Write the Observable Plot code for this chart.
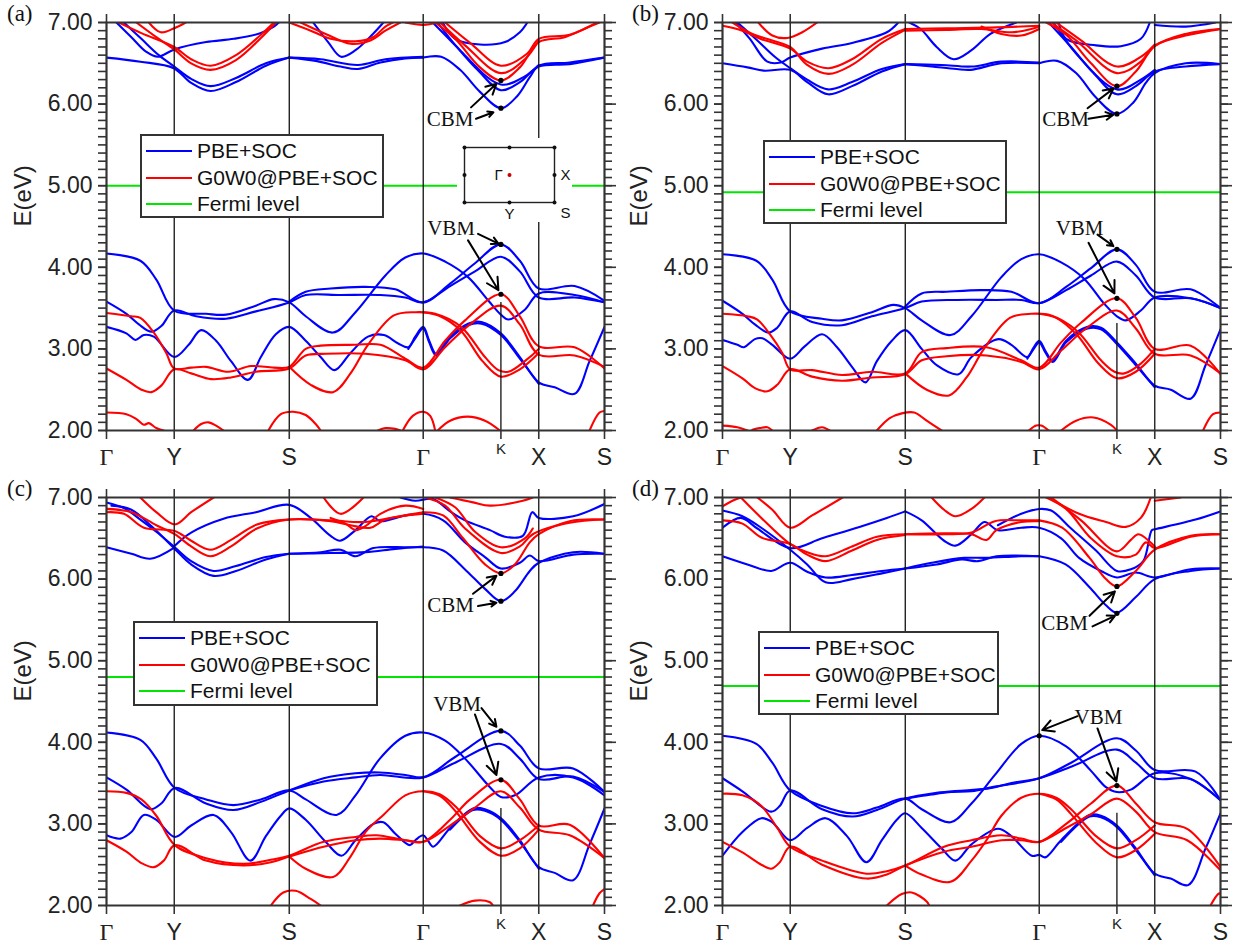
<!DOCTYPE html>
<html><head><meta charset="utf-8">
<script src="https://cdn.jsdelivr.net/npm/d3@7"></script>
<script src="https://cdn.jsdelivr.net/npm/@observablehq/plot@0.6"></script>
<style>
body{margin:0;background:#fff;}
#root{position:relative;width:1238px;height:951px;overflow:hidden;background:#fff;font-family:"Liberation Sans",Arial,sans-serif;}
.panel{position:absolute;}
.plabel{position:absolute;font-family:"Liberation Serif","Times New Roman",serif;font-size:23px;color:#111;line-height:1;}
.legend{position:absolute;background:#fff;border:2px solid #333;box-sizing:border-box;}
.legend .row{position:absolute;left:4px;height:26px;display:flex;align-items:center;font-size:21px;color:#111;white-space:nowrap;}
.legend .sw{width:46px;height:2px;margin-right:5px;}
</style></head><body><div id="root"></div>
<script>
// ---------- shared axis data ----------
const kTicks = [0, 0.136, 0.367, 0.636, 0.792, 0.868, 1];
const kNames = ["Γ", "Y", "S", "Γ", "K", "X", "S"];
const majorTicks = [2, 3, 4, 5, 6, 7];
const panelNames = ["(a)", "(b)", "(c)", "(d)"];
const fermiLevels = [5.00, 4.92, 4.80, 4.69];
const kLineStart = [3.57, 3.31, 3.19, 3.13];
const legendItems = [
  {label: "PBE+SOC", color: "#0000ff"},
  {label: "G0W0@PBE+SOC", color: "#ff0000"},
  {label: "Fermi level", color: "#00e600"}
];

// ---------- panel (a) ----------
const pbeA = [
  [[0,6.57],[0.068,6.52],[0.135,6.44],[0.17,6.26],[0.209,6.16],[0.26,6.27],[0.32,6.47],[0.367,6.57]],
  [[0.035,7.0],[0.07,6.80],[0.105,6.60],[0.136,6.46],[0.17,6.31],[0.209,6.22],[0.26,6.32],[0.32,6.50],[0.367,6.57]],
  [[0.02,7.0],[0.05,6.82],[0.08,6.64],[0.103,6.58],[0.136,6.67],[0.2,6.76],[0.256,6.80],[0.31,6.87],[0.336,6.95],[0.346,7.0]],
  [[0.367,6.57],[0.42,6.53],[0.47,6.46],[0.505,6.43],[0.55,6.51],[0.6,6.56],[0.636,6.57]],
  [[0.367,6.57],[0.43,6.55],[0.505,6.48],[0.56,6.55],[0.636,6.58]],
  [[0.415,7.0],[0.445,6.76],[0.471,6.58],[0.50,6.66],[0.535,6.86],[0.556,7.0]],
  [[0.636,6.57],[0.672,6.58],[0.71,6.42],[0.75,6.15],[0.792,5.95],[0.825,6.10],[0.85,6.33],[0.868,6.47],[0.93,6.51],[1.0,6.57]],
  [[0.655,7.0],[0.70,6.72],[0.745,6.42],[0.792,6.17],[0.83,6.27],[0.868,6.46],[0.93,6.49],[1.0,6.57]],
  [[0.665,7.0],[0.71,6.66],[0.792,6.24],[0.84,6.34],[0.868,6.48]],
  [[0.675,7.0],[0.70,6.80],[0.75,6.73],[0.80,6.76],[0.83,6.88],[0.845,7.0]],
  [[0,4.17],[0.068,4.08],[0.10,3.85],[0.136,3.47],[0.20,3.43],[0.24,3.42],[0.30,3.53],[0.336,3.61],[0.367,3.57],[0.40,3.40],[0.455,3.20],[0.50,3.45],[0.56,3.90],[0.60,4.12],[0.636,4.17],[0.68,4.07],[0.726,3.88],[0.767,3.59],[0.792,3.42],[0.807,3.36],[0.84,3.48],[0.868,3.68],[0.94,3.66],[1.0,3.57]],
  [[0,3.58],[0.04,3.43],[0.065,3.30],[0.09,3.21],[0.11,3.28],[0.136,3.47],[0.18,3.40],[0.24,3.37],[0.30,3.46],[0.367,3.57],[0.40,3.66],[0.47,3.66],[0.55,3.66],[0.60,3.63],[0.636,3.57],[0.69,3.77],[0.74,3.95],[0.792,4.13],[0.83,3.95],[0.868,3.63],[0.94,3.63],[1.0,3.57]],
  [[0.367,3.58],[0.40,3.70],[0.45,3.74],[0.52,3.76],[0.58,3.73],[0.636,3.57],[0.69,3.80],[0.74,4.05],[0.792,4.28],[0.83,4.08],[0.868,3.74],[0.94,3.77],[1.0,3.59]],
  [[0,3.27],[0.04,3.19],[0.058,3.11],[0.075,3.17],[0.095,3.15],[0.136,2.90],[0.165,3.05],[0.19,3.23],[0.22,3.10],[0.25,2.85],[0.284,2.62],[0.31,2.90],[0.34,3.18],[0.367,3.27],[0.40,3.10],[0.43,2.90],[0.458,2.74],[0.49,2.95],[0.525,3.15],[0.557,3.17],[0.585,3.07],[0.606,3.02],[0.62,3.15],[0.636,3.27],[0.648,3.10],[0.662,2.94],[0.69,3.15],[0.726,3.31],[0.753,3.33],[0.792,3.19],[0.83,2.90],[0.868,2.59],[0.90,2.53],[0.94,2.45],[0.97,2.85],[1.0,3.27]],
  [[0.606,3.0],[0.62,3.13],[0.636,3.25],[0.648,3.08],[0.662,2.92],[0.69,3.13],[0.726,3.29],[0.753,3.31],[0.792,3.17],[0.83,2.88],[0.868,2.57]]
];
const gwA = [
  [[0.025,7.0],[0.07,6.87],[0.136,6.70],[0.17,6.55],[0.209,6.47],[0.26,6.60],[0.31,6.85],[0.336,7.0]],
  [[0.06,7.0],[0.10,6.82],[0.136,6.67],[0.17,6.50],[0.209,6.42],[0.26,6.54],[0.31,6.81],[0.34,7.0]],
  [[0.085,7.0],[0.109,6.88],[0.136,6.93],[0.159,7.0]],
  [[0.367,7.0],[0.41,6.90],[0.45,6.80],[0.50,6.77],[0.535,6.82],[0.56,6.95],[0.575,7.0]],
  [[0.39,7.0],[0.44,6.86],[0.49,6.74],[0.53,6.78],[0.56,6.90],[0.59,7.0]],
  [[0.60,7.0],[0.636,6.97],[0.665,7.0]],
  [[0.66,7.0],[0.70,6.80],[0.75,6.45],[0.792,6.29],[0.83,6.45],[0.868,6.76],[0.92,6.82],[0.97,6.95],[0.99,7.0]],
  [[0.67,7.0],[0.72,6.72],[0.792,6.38],[0.84,6.55],[0.868,6.78]],
  [[0.68,7.0],[0.73,6.75],[0.792,6.47],[0.845,6.62],[0.868,6.80],[0.93,6.85],[0.985,7.0]],
  [[0,3.44],[0.05,3.40],[0.068,3.38],[0.095,3.20],[0.12,2.95],[0.136,2.76],[0.17,2.77],[0.2,2.78],[0.245,2.72],[0.29,2.79],[0.336,2.77],[0.367,2.78],[0.40,3.0],[0.43,3.04],[0.5,3.05],[0.55,3.05],[0.6,2.88],[0.636,2.77],[0.68,3.10],[0.72,3.35],[0.792,3.67],[0.83,3.40],[0.868,3.03],[0.94,3.02],[1.0,2.76]],
  [[0,2.76],[0.04,2.62],[0.07,2.50],[0.09,2.47],[0.11,2.55],[0.136,2.75],[0.17,2.70],[0.21,2.63],[0.25,2.65],[0.30,2.72],[0.367,2.76],[0.40,2.92],[0.44,2.94],[0.52,2.94],[0.6,2.86],[0.636,2.75],[0.68,3.02],[0.73,3.30],[0.792,3.53],[0.83,3.30],[0.868,2.93],[0.94,2.92],[1.0,2.78]],
  [[0.367,2.78],[0.41,2.56],[0.455,2.47],[0.49,2.70],[0.525,3.05],[0.577,3.41],[0.62,3.45],[0.66,3.43],[0.712,3.27],[0.76,2.90],[0.787,2.74],[0.807,2.72],[0.84,2.85],[0.868,3.0]],
  [[0.636,3.45],[0.67,3.40],[0.712,3.22],[0.755,2.85],[0.792,2.66],[0.83,2.75],[0.868,2.95]],
  [[0,2.22],[0.04,2.20],[0.06,2.14],[0.075,2.07],[0.085,2.09],[0.10,2.03],[0.115,2.0]],
  [[0.175,2.0],[0.19,2.08],[0.205,2.10],[0.22,2.06],[0.235,2.0]],
  [[0.325,2.0],[0.35,2.20],[0.375,2.23],[0.40,2.19],[0.42,2.08],[0.43,2.0]],
  [[0.545,2.0],[0.56,2.03],[0.58,2.02],[0.59,2.0]],
  [[0.595,2.0],[0.615,2.18],[0.636,2.23],[0.65,2.18],[0.66,2.0]],
  [[0.665,2.0],[0.69,2.12],[0.725,2.17],[0.76,2.12],[0.79,2.0]],
  [[0.97,2.0],[0.99,2.22],[1.0,2.24]]
];
const dotsA = [[0.792,6.29],[0.792,5.95],[0.792,4.28],[0.792,3.67]];
const arrowsA = [[0.732,5.96,0.783,6.25],[0.742,5.82,0.777,5.90],[0.746,4.41,0.787,4.29],[0.726,4.33,0.787,3.72]];
const notesA = [[0.690,5.82,"CBM"],[0.692,4.48,"VBM"]];

// ---------- panel (b) ----------
const pbeB = [
  [[0,6.50],[0.05,6.45],[0.083,6.41],[0.136,6.42],[0.17,6.27],[0.212,6.12],[0.26,6.22],[0.32,6.40],[0.367,6.49]],
  [[0.03,7.0],[0.07,6.78],[0.105,6.58],[0.136,6.44],[0.17,6.30],[0.212,6.18],[0.26,6.27],[0.32,6.43],[0.367,6.49]],
  [[0.026,7.0],[0.055,6.80],[0.09,6.52],[0.117,6.51],[0.136,6.57],[0.20,6.68],[0.26,6.75],[0.33,6.88],[0.353,7.0]],
  [[0.367,6.49],[0.42,6.46],[0.47,6.43],[0.498,6.42],[0.56,6.50],[0.636,6.50]],
  [[0.367,6.49],[0.44,6.48],[0.50,6.46],[0.56,6.52],[0.636,6.51]],
  [[0.375,7.0],[0.398,6.92],[0.43,6.70],[0.464,6.55],[0.50,6.66],[0.538,6.86],[0.59,7.0]],
  [[0.636,6.50],[0.672,6.53],[0.71,6.38],[0.75,6.08],[0.792,5.88],[0.825,6.02],[0.85,6.26],[0.868,6.38],[0.93,6.50],[1.0,6.49]],
  [[0.655,7.0],[0.70,6.70],[0.745,6.38],[0.792,6.12],[0.83,6.22],[0.868,6.40],[0.93,6.46],[1.0,6.49]],
  [[0.665,7.0],[0.71,6.62],[0.792,6.18],[0.84,6.30],[0.868,6.42]],
  [[0.675,7.0],[0.69,6.80],[0.75,6.72],[0.80,6.71],[0.84,6.80],[0.858,7.0]],
  [[0.868,6.97],[0.93,6.95],[0.99,7.0]],
  [[0,4.16],[0.068,4.08],[0.10,3.85],[0.136,3.46],[0.20,3.37],[0.24,3.35],[0.30,3.45],[0.343,3.54],[0.367,3.50],[0.40,3.35],[0.458,3.17],[0.50,3.40],[0.56,3.88],[0.60,4.10],[0.636,4.16],[0.68,4.06],[0.726,3.86],[0.767,3.55],[0.792,3.40],[0.81,3.35],[0.84,3.47],[0.868,3.63],[0.94,3.62],[1.0,3.50]],
  [[0,3.59],[0.04,3.43],[0.065,3.30],[0.092,3.20],[0.11,3.26],[0.136,3.46],[0.18,3.33],[0.24,3.29],[0.30,3.40],[0.367,3.50],[0.40,3.58],[0.47,3.60],[0.55,3.60],[0.60,3.60],[0.636,3.56],[0.69,3.72],[0.74,3.90],[0.792,4.07],[0.83,3.90],[0.868,3.63],[0.94,3.62],[1.0,3.50]],
  [[0.367,3.52],[0.40,3.68],[0.45,3.70],[0.52,3.72],[0.58,3.70],[0.636,3.56],[0.69,3.76],[0.74,3.99],[0.792,4.22],[0.83,4.03],[0.868,3.70],[0.94,3.73],[1.0,3.50]],
  [[0,3.11],[0.03,3.05],[0.043,3.02],[0.065,3.12],[0.08,3.13],[0.10,3.05],[0.136,2.88],[0.165,3.03],[0.20,3.18],[0.23,3.02],[0.26,2.78],[0.287,2.59],[0.31,2.85],[0.34,3.10],[0.367,3.23],[0.40,3.00],[0.43,2.80],[0.474,2.69],[0.50,2.90],[0.554,3.12],[0.58,3.05],[0.612,2.90],[0.625,3.02],[0.636,3.10],[0.648,2.98],[0.663,2.86],[0.69,3.10],[0.733,3.27],[0.76,3.26],[0.792,3.08],[0.83,2.82],[0.868,2.55],[0.90,2.50],[0.94,2.39],[0.97,2.80],[1.0,3.24]],
  [[0.612,2.88],[0.625,3.0],[0.636,3.08],[0.648,2.96],[0.663,2.84],[0.69,3.08],[0.733,3.25],[0.76,3.24],[0.792,3.06],[0.83,2.80],[0.868,2.53]]
];
const gwB = [
  [[0,6.96],[0.04,6.90],[0.076,6.80],[0.136,6.68],[0.17,6.52],[0.213,6.44],[0.26,6.55],[0.32,6.80],[0.367,6.92]],
  [[0.02,7.0],[0.06,6.86],[0.10,6.78],[0.136,6.70],[0.17,6.48],[0.213,6.37],[0.26,6.48],[0.32,6.75],[0.367,6.91]],
  [[0.072,7.0],[0.10,6.84],[0.13,6.81],[0.16,6.88],[0.19,7.0]],
  [[0.367,6.92],[0.45,6.93],[0.55,6.94],[0.636,6.96]],
  [[0.367,6.90],[0.45,6.91],[0.52,6.92],[0.58,6.88],[0.62,6.92],[0.636,6.95]],
  [[0.52,6.95],[0.56,6.86],[0.60,6.84],[0.636,6.92]],
  [[0.65,7.0],[0.69,6.85],[0.74,6.50],[0.792,6.22],[0.83,6.40],[0.868,6.71],[0.93,6.86],[1.0,6.92]],
  [[0.66,7.0],[0.71,6.78],[0.792,6.38],[0.84,6.52],[0.868,6.72],[0.93,6.84],[1.0,6.92]],
  [[0.67,7.0],[0.72,6.78],[0.792,6.46],[0.845,6.60],[0.868,6.73]],
  [[0,3.43],[0.05,3.40],[0.07,3.36],[0.095,3.18],[0.12,2.95],[0.136,2.75],[0.18,2.74],[0.24,2.68],[0.30,2.72],[0.367,2.70],[0.40,2.96],[0.45,3.01],[0.53,3.02],[0.60,2.86],[0.636,2.77],[0.68,3.08],[0.72,3.32],[0.792,3.62],[0.83,3.38],[0.868,3.0],[0.94,3.04],[1.0,2.69]],
  [[0,2.79],[0.04,2.64],[0.065,2.52],[0.09,2.48],[0.11,2.56],[0.136,2.75],[0.18,2.66],[0.24,2.61],[0.30,2.65],[0.367,2.69],[0.40,2.86],[0.45,2.91],[0.53,2.92],[0.60,2.84],[0.636,2.75],[0.68,2.98],[0.73,3.25],[0.792,3.47],[0.83,3.25],[0.868,2.94],[0.94,2.92],[1.0,2.70]],
  [[0.367,2.70],[0.41,2.50],[0.455,2.43],[0.49,2.65],[0.525,3.0],[0.577,3.38],[0.62,3.43],[0.66,3.41],[0.712,3.22],[0.76,2.86],[0.787,2.72],[0.807,2.70],[0.84,2.82],[0.868,3.0]],
  [[0.636,3.43],[0.67,3.38],[0.712,3.17],[0.755,2.82],[0.792,2.64],[0.83,2.72],[0.868,2.94]],
  [[0,2.06],[0.03,2.04],[0.05,2.0]],
  [[0.06,2.01],[0.075,2.03],[0.09,2.04],[0.10,2.0]],
  [[0.18,2.0],[0.2,2.04],[0.215,2.0]],
  [[0.31,2.0],[0.335,2.15],[0.36,2.21],[0.385,2.22],[0.41,2.12],[0.44,2.0]],
  [[0.615,2.0],[0.63,2.06],[0.64,2.06],[0.655,2.0]],
  [[0.68,2.0],[0.71,2.12],[0.745,2.16],[0.78,2.07],[0.792,2.0]],
  [[0.965,2.0],[0.985,2.2],[1.0,2.22]]
];
const dotsB = [[0.792,6.22],[0.792,5.88],[0.792,4.22],[0.792,3.62]];
const arrowsB = [[0.733,5.95,0.785,6.19],[0.735,5.82,0.785,5.87],[0.753,4.40,0.785,4.26],[0.735,4.30,0.787,3.68]];
const notesB = [[0.689,5.81,"CBM"],[0.717,4.48,"VBM"]];

// ---------- panel (c) ----------
const pbeC = [
  [[0,6.39],[0.05,6.31],[0.088,6.25],[0.137,6.39]],
  [[0.137,6.41],[0.17,6.57],[0.235,6.74],[0.30,6.82],[0.367,6.91],[0.41,6.75],[0.45,6.53],[0.469,6.47],[0.50,6.60],[0.532,6.77],[0.55,6.71],[0.60,6.78],[0.636,6.80],[0.676,6.72],[0.72,6.45],[0.76,6.27],[0.792,6.13],[0.83,6.20],[0.85,6.29],[0.868,6.22],[0.937,6.30],[1.0,6.31]],
  [[0,6.94],[0.035,6.87],[0.07,6.72],[0.10,6.58],[0.137,6.39],[0.17,6.22],[0.215,6.10],[0.26,6.16],[0.32,6.27],[0.367,6.31]],
  [[0.01,6.90],[0.05,6.85],[0.09,6.65],[0.137,6.37],[0.17,6.18],[0.215,6.04],[0.26,6.10],[0.32,6.24],[0.367,6.31]],
  [[0.367,6.31],[0.43,6.33],[0.47,6.36],[0.50,6.28],[0.536,6.38],[0.60,6.39],[0.636,6.39]],
  [[0.367,6.31],[0.45,6.32],[0.52,6.33],[0.58,6.37],[0.636,6.40]],
  [[0.636,6.39],[0.676,6.35],[0.723,6.10],[0.76,5.88],[0.792,5.73],[0.82,5.85],[0.85,6.10],[0.868,6.20],[0.937,6.33],[1.0,6.31]],
  [[0.59,7.0],[0.62,6.96],[0.656,6.98],[0.69,6.83],[0.72,6.72],[0.77,6.60],[0.80,6.52],[0.836,6.53],[0.855,6.82],[0.868,6.75],[0.937,6.77],[1.0,6.92]],
  [[0,4.12],[0.068,4.03],[0.10,3.80],[0.137,3.44],[0.20,3.30],[0.255,3.23],[0.31,3.30],[0.367,3.41],[0.40,3.30],[0.462,3.11],[0.50,3.35],[0.549,3.80],[0.60,4.08],[0.636,4.12],[0.68,4.02],[0.72,3.80],[0.77,3.45],[0.792,3.33],[0.82,3.35],[0.868,3.57],[0.937,3.57],[1.0,3.35]],
  [[0,3.57],[0.04,3.42],[0.088,3.18],[0.11,3.25],[0.137,3.44],[0.20,3.25],[0.255,3.17],[0.31,3.27],[0.367,3.41],[0.436,3.56],[0.50,3.62],[0.549,3.63],[0.60,3.60],[0.636,3.57],[0.70,3.75],[0.792,3.98],[0.83,3.80],[0.868,3.55],[0.937,3.58],[1.0,3.39]],
  [[0.367,3.41],[0.436,3.52],[0.50,3.57],[0.549,3.60],[0.636,3.57],[0.70,3.82],[0.792,4.14],[0.83,3.96],[0.868,3.68],[0.937,3.68],[1.0,3.39]],
  [[0,2.86],[0.028,2.82],[0.05,2.90],[0.075,3.11],[0.10,3.05],[0.137,2.84],[0.17,2.98],[0.215,3.11],[0.25,2.90],[0.289,2.55],[0.32,2.85],[0.35,3.10],[0.367,3.19],[0.40,3.05],[0.44,2.78],[0.472,2.61],[0.50,2.80],[0.536,3.0],[0.556,3.02],[0.58,2.88],[0.609,2.74],[0.62,2.80],[0.636,2.86],[0.645,2.80],[0.656,2.72],[0.69,2.95],[0.736,3.19],[0.76,3.18],[0.792,3.07],[0.83,2.80],[0.868,2.47],[0.90,2.40],[0.937,2.31],[0.97,2.75],[1.0,3.19]],
  [[0.69,2.93],[0.736,3.17],[0.76,3.16],[0.792,3.05],[0.83,2.78],[0.868,2.45]]
];
const gwC = [
  [[0,6.82],[0.035,6.80],[0.075,6.63],[0.137,6.59],[0.17,6.47],[0.208,6.36],[0.25,6.48],[0.302,6.67],[0.367,6.73],[0.45,6.72],[0.52,6.70],[0.58,6.76],[0.636,6.82]],
  [[0,6.86],[0.05,6.82],[0.10,6.66],[0.137,6.55],[0.17,6.40],[0.208,6.28],[0.25,6.40],[0.302,6.62],[0.367,6.73],[0.45,6.71],[0.49,6.66],[0.53,6.63],[0.56,6.73],[0.636,6.80]],
  [[0.068,7.0],[0.10,6.82],[0.137,6.67],[0.17,6.82],[0.215,7.0]],
  [[0.436,7.0],[0.47,6.80],[0.516,7.0]],
  [[0.45,6.75],[0.48,6.68],[0.50,6.60],[0.52,6.65],[0.55,6.80],[0.60,6.90],[0.636,6.86]],
  [[0.636,6.82],[0.676,6.78],[0.716,6.50],[0.76,6.18],[0.792,6.07],[0.82,6.18],[0.85,6.45],[0.868,6.55],[0.93,6.71],[1.0,6.73]],
  [[0.64,7.0],[0.68,6.90],[0.72,6.62],[0.792,6.32],[0.83,6.40],[0.856,6.55],[0.93,6.69],[1.0,6.73]],
  [[0.66,7.0],[0.70,6.88],[0.74,6.58],[0.792,6.39],[0.84,6.50],[0.856,6.62]],
  [[0.69,7.0],[0.736,6.94],[0.77,6.90],[0.836,6.96],[0.856,7.0]],
  [[0,3.40],[0.04,3.38],[0.07,3.30],[0.10,3.10],[0.137,2.74],[0.20,2.58],[0.275,2.51],[0.33,2.56],[0.367,2.61],[0.436,2.78],[0.50,2.84],[0.542,2.86],[0.60,2.80],[0.636,2.78],[0.69,3.05],[0.73,3.30],[0.792,3.54],[0.83,3.30],[0.868,2.98],[0.93,2.99],[1.0,2.58]],
  [[0,2.80],[0.04,2.66],[0.07,2.52],[0.095,2.47],[0.115,2.55],[0.137,2.74],[0.20,2.55],[0.275,2.49],[0.33,2.53],[0.367,2.60],[0.436,2.72],[0.50,2.80],[0.549,2.82],[0.60,2.80],[0.636,2.78],[0.69,2.98],[0.74,3.20],[0.792,3.40],[0.83,3.20],[0.868,2.93],[0.93,2.86],[1.0,2.58]],
  [[0.367,2.60],[0.40,2.45],[0.455,2.35],[0.49,2.60],[0.52,2.90],[0.556,3.11],[0.60,3.35],[0.636,3.40],[0.67,3.36],[0.703,3.20],[0.75,2.85],[0.792,2.70],[0.83,2.80],[0.868,2.98]],
  [[0.636,3.40],[0.67,3.34],[0.703,3.14],[0.75,2.78],[0.792,2.61],[0.83,2.70],[0.868,2.93]],
  [[0.33,2.0],[0.355,2.16],[0.38,2.18],[0.41,2.08],[0.43,2.0]],
  [[0.71,2.0],[0.74,2.06],[0.77,2.04],[0.776,2.0]],
  [[0.977,2.0],[0.99,2.15],[1.0,2.20]]
];
const dotsC = [[0.792,6.07],[0.792,5.73],[0.792,4.14],[0.792,3.54]];
const arrowsC = [[0.736,5.82,0.783,6.04],[0.746,5.67,0.783,5.71],[0.753,4.42,0.783,4.19],[0.740,4.34,0.783,3.60]];
const notesC = [[0.691,5.68,"CBM"],[0.704,4.47,"VBM"]];

// ---------- panel (d) ----------
const pbeD = [
  [[0,6.28],[0.05,6.18],[0.098,6.10],[0.136,6.20],[0.17,6.09],[0.207,6.02],[0.26,6.05],[0.32,6.10],[0.367,6.13]],
  [[0,6.84],[0.04,6.77],[0.08,6.62],[0.136,6.36],[0.17,6.18],[0.207,5.96],[0.26,6.0],[0.32,6.07],[0.367,6.13]],
  [[0,6.63],[0.037,6.75],[0.07,6.62],[0.136,6.38],[0.2,6.50],[0.275,6.64],[0.33,6.75],[0.367,6.83]],
  [[0.367,6.83],[0.40,6.72],[0.445,6.47],[0.468,6.41],[0.50,6.55],[0.526,6.70],[0.553,6.60],[0.60,6.63],[0.636,6.63],[0.68,6.50],[0.716,6.26],[0.76,6.10],[0.792,6.02],[0.83,6.08],[0.868,6.02],[0.94,6.12],[1.0,6.13]],
  [[0.367,6.13],[0.42,6.20],[0.485,6.26],[0.53,6.26],[0.60,6.28],[0.636,6.28]],
  [[0.367,6.13],[0.43,6.18],[0.48,6.24],[0.513,6.22],[0.55,6.28],[0.636,6.28]],
  [[0.636,6.28],[0.689,6.18],[0.737,5.90],[0.77,5.68],[0.792,5.59],[0.83,5.78],[0.868,6.0],[0.94,6.10],[1.0,6.13]],
  [[0.553,6.66],[0.60,6.80],[0.636,6.86],[0.66,6.84],[0.70,6.62],[0.75,6.35],[0.792,6.10],[0.82,6.12],[0.845,6.22],[0.862,6.60],[0.868,6.61],[0.95,6.73],[1.0,6.83]],
  [[0,4.08],[0.068,3.98],[0.10,3.75],[0.136,3.41],[0.20,3.22],[0.261,3.13],[0.31,3.20],[0.367,3.31],[0.40,3.18],[0.458,3.02],[0.50,3.25],[0.547,3.60],[0.60,3.98],[0.636,4.08],[0.69,3.95],[0.74,3.65],[0.77,3.45],[0.792,3.39],[0.82,3.42],[0.868,3.62],[0.94,3.55],[1.0,3.29]],
  [[0,3.56],[0.04,3.40],[0.098,3.15],[0.115,3.22],[0.136,3.41],[0.20,3.18],[0.261,3.09],[0.31,3.17],[0.367,3.31],[0.43,3.38],[0.485,3.41],[0.54,3.44],[0.58,3.50],[0.636,3.56],[0.70,3.70],[0.792,3.91],[0.83,3.75],[0.868,3.56],[0.94,3.55],[1.0,3.29]],
  [[0.367,3.31],[0.42,3.36],[0.46,3.39],[0.50,3.40],[0.55,3.46],[0.636,3.56],[0.70,3.75],[0.792,4.05],[0.83,3.90],[0.868,3.66],[0.95,3.64],[1.0,3.29]],
  [[0,2.61],[0.04,2.90],[0.078,3.07],[0.10,3.02],[0.136,2.80],[0.17,2.95],[0.207,3.07],[0.25,2.85],[0.289,2.53],[0.32,2.80],[0.35,3.05],[0.367,3.13],[0.40,2.95],[0.44,2.70],[0.468,2.55],[0.50,2.75],[0.553,2.94],[0.58,2.85],[0.621,2.61],[0.636,2.62],[0.648,2.59],[0.68,2.80],[0.737,3.11],[0.76,3.10],[0.792,2.98],[0.83,2.70],[0.868,2.39],[0.90,2.33],[0.935,2.25],[0.97,2.70],[1.0,3.13]],
  [[0.68,2.78],[0.737,3.09],[0.76,3.08],[0.792,2.96],[0.83,2.68],[0.868,2.37]]
];
const gwD = [
  [[0,6.89],[0.02,6.96],[0.037,7.0]],
  [[0.037,7.0],[0.078,6.75],[0.136,6.43],[0.17,6.33],[0.207,6.28],[0.26,6.40],[0.31,6.52],[0.367,6.55]],
  [[0,6.72],[0.04,6.68],[0.078,6.51],[0.136,6.43],[0.17,6.30],[0.207,6.22],[0.26,6.35],[0.31,6.48],[0.367,6.54]],
  [[0.07,7.0],[0.10,6.85],[0.136,6.63],[0.18,6.78],[0.241,7.0]],
  [[0.367,6.55],[0.445,6.55],[0.50,6.57],[0.547,6.71],[0.60,6.72],[0.636,6.72]],
  [[0.367,6.55],[0.45,6.56],[0.50,6.55],[0.53,6.48],[0.55,6.60],[0.60,6.70],[0.636,6.71]],
  [[0.42,7.0],[0.445,6.85],[0.468,6.77],[0.50,6.86],[0.526,7.0]],
  [[0.636,6.72],[0.682,6.63],[0.737,6.26],[0.77,6.0],[0.792,5.91],[0.83,6.10],[0.868,6.36],[0.94,6.53],[1.0,6.55]],
  [[0.65,7.0],[0.69,6.86],[0.74,6.50],[0.792,6.28],[0.83,6.30],[0.85,6.45],[0.868,6.38],[0.94,6.52],[1.0,6.55]],
  [[0.66,7.0],[0.72,6.72],[0.792,6.34],[0.82,6.48],[0.835,6.55],[0.868,6.40]],
  [[0.655,7.0],[0.716,6.80],[0.77,6.70],[0.81,6.64],[0.84,6.75],[0.86,7.0]],
  [[0.868,6.96],[0.92,7.0]],
  [[0,3.37],[0.04,3.35],[0.078,3.22],[0.11,2.95],[0.136,2.72],[0.20,2.55],[0.289,2.39],[0.33,2.42],[0.367,2.49],[0.445,2.72],[0.50,2.80],[0.56,2.86],[0.60,2.82],[0.636,2.78],[0.69,3.0],[0.74,3.25],[0.792,3.47],[0.83,3.25],[0.868,3.02],[0.933,2.94],[1.0,2.47]],
  [[0,2.78],[0.04,2.65],[0.078,2.50],[0.098,2.45],[0.115,2.53],[0.136,2.72],[0.20,2.50],[0.289,2.33],[0.33,2.38],[0.367,2.49],[0.445,2.66],[0.50,2.72],[0.56,2.80],[0.60,2.80],[0.636,2.78],[0.69,2.95],[0.74,3.12],[0.792,3.31],[0.83,3.15],[0.868,2.90],[0.933,2.80],[1.0,2.43]],
  [[0.367,2.49],[0.40,2.38],[0.458,2.29],[0.50,2.55],[0.53,2.80],[0.56,3.10],[0.60,3.32],[0.636,3.37],[0.67,3.32],[0.70,3.18],[0.75,2.85],[0.792,2.70],[0.83,2.80],[0.868,2.98]],
  [[0.636,3.37],[0.67,3.30],[0.70,3.12],[0.75,2.77],[0.792,2.59],[0.83,2.68],[0.868,2.88]],
  [[0.33,2.0],[0.36,2.14],[0.38,2.16],[0.41,2.05],[0.415,2.0]],
  [[0.98,2.0],[0.995,2.14],[1.0,2.15]]
];
const dotsD = [[0.792,5.91],[0.792,5.58],[0.636,4.08],[0.792,3.47]];
const arrowsD = [[0.737,5.55,0.788,5.85],[0.743,5.42,0.788,5.55],[0.713,4.32,0.642,4.15],[0.753,4.17,0.791,3.52]];
const notesD = [[0.687,5.46,"CBM"],[0.755,4.31,"VBM"]];

// ---------- layout ----------
const panels = [
  {pbe: pbeA, gw: gwA, dots: dotsA, arrows: arrowsA, notes: notesA, left: 0, top: 0, leg: [140,134,244,84]},
  {pbe: pbeB, gw: gwB, dots: dotsB, arrows: arrowsB, notes: notesB, left: 616, top: 0, leg: [763,140,244,84]},
  {pbe: pbeC, gw: gwC, dots: dotsC, arrows: arrowsC, notes: notesC, left: 0, top: 475, leg: [133,621,245,85]},
  {pbe: pbeD, gw: gwD, dots: dotsD, arrows: arrowsD, notes: notesD, left: 616, top: 475, leg: [758,631,241,84]}
];

const SANS = "Liberation Sans, Arial, sans-serif";
const SERIF = "Liberation Serif, Times New Roman, serif";
const root = document.getElementById("root");
const minorTicks = d3.range(20, 71).map(i => i / 10);
const ticksInfo = kTicks.map((k, i) => ({k, name: kNames[i]}));
const fullLines = ticksInfo.filter(d => d.name !== "K");
const kPoint = ticksInfo.filter(d => d.name === "K");

function rows(bands, tag) {
  return bands.flatMap((pts, i) => pts.map(([k, e]) => ({k, e, band: tag + i})));
}

panels.forEach((p, idx) => {
  const blueRows = rows(p.pbe, "b");
  const redRows = rows(p.gw, "r");
  const axisStyle = {stroke: "#333", strokeWidth: 1.6, label: null};
  const chart = Plot.plot({
    width: 620, height: 480,
    marginLeft: 106, marginRight: 16, marginTop: 22, marginBottom: 50,
    x: {domain: [0, 1], axis: null, label: null},
    y: {domain: [2, 7], axis: null, label: null},
    style: {fontFamily: SANS, fontSize: "23px", color: "#222", background: "transparent", overflow: "visible"},
    marks: [
      Plot.ruleY([fermiLevels[idx]], {stroke: legendItems[2].color, strokeWidth: 2}),
      Plot.line(blueRows, {x: "k", y: "e", z: "band", stroke: legendItems[0].color, strokeWidth: 2.1, curve: "catmull-rom", clip: true}),
      Plot.line(redRows, {x: "k", y: "e", z: "band", stroke: legendItems[1].color, strokeWidth: 2.1, curve: "catmull-rom", clip: true}),
      Plot.ruleX(fullLines, {x: "k", stroke: "#111", strokeWidth: 1.3}),
      Plot.ruleX(kPoint, {x: "k", y1: kLineStart[idx], y2: 2, stroke: "#111", strokeWidth: 1.3}),
      Plot.frame({stroke: "#333", strokeWidth: 2}),
      Plot.axisY({anchor: "left", ticks: minorTicks, tickSize: 8, tickFormat: () => "", ...axisStyle}),
      Plot.axisY({anchor: "left", ticks: majorTicks, tickSize: 8, tickPadding: 6, tickFormat: d3.format(".2f"), fontSize: 23, fill: "#222", ...axisStyle}),
      Plot.axisY({anchor: "right", ticks: minorTicks, tickSize: 7, tickFormat: () => "", ...axisStyle}),
      Plot.axisY({anchor: "right", ticks: majorTicks, tickSize: 11, tickFormat: () => "", ...axisStyle}),
      Plot.axisX({anchor: "top", ticks: fullLines.map(d => d.k), tickSize: 9, tickFormat: () => "", ...axisStyle}),
      Plot.axisX({anchor: "bottom", ticks: kTicks, tickSize: 9, tickFormat: () => "", ...axisStyle}),
      Plot.text(fullLines.filter(d => d.name !== "Γ"), {x: "k", text: "name", frameAnchor: "bottom", dy: 34, fontSize: 23, fontFamily: SANS, fill: "#222"}),
      Plot.text(fullLines.filter(d => d.name === "Γ"), {x: "k", text: "name", frameAnchor: "bottom", dy: 34, fontSize: 24, fontFamily: SERIF, fill: "#222"}),
      Plot.text(kPoint, {x: "k", text: "name", frameAnchor: "bottom", dy: 23, fontSize: 15, fontFamily: SANS, fill: "#222"}),
      Plot.text(["E(eV)"], {text: d => d, frameAnchor: "left", dx: -83, rotate: -90, fontSize: 24, fontFamily: SANS, fill: "#222"}),
      Plot.arrow(p.arrows, {x1: d => d[0], y1: d => d[1], x2: d => d[2], y2: d => d[3], stroke: "#000", strokeWidth: 2, headLength: 10, headAngle: 55}),
      Plot.dot(p.dots, {x: d => d[0], y: d => d[1], r: 2.6, fill: "#000"}),
      Plot.text(p.notes, {x: d => d[0], y: d => d[1], text: d => d[2], fontFamily: SERIF, fontSize: 21, fill: "#111"})
    ]
  });
  chart.classList.add("panel");
  chart.style.left = p.left + "px";
  chart.style.top = p.top + "px";
  root.appendChild(chart);

  const lab = document.createElement("div");
  lab.className = "plabel";
  lab.textContent = panelNames[idx];
  lab.style.left = (p.left + 7 + (idx % 2 ? 9 : 0)) + "px";
  lab.style.top = (p.top + 2) + "px";
  root.appendChild(lab);

  const leg = document.createElement("div");
  leg.className = "legend";
  const [lx, ly, lw, lh] = p.leg;
  Object.assign(leg.style, {left: lx + "px", top: ly + "px", width: lw + "px", height: lh + "px"});
  legendItems.forEach((it, j) => {
    const row = document.createElement("div");
    row.className = "row";
    row.style.top = (2 + j * 26.5) + "px";
    const sw = document.createElement("div");
    sw.className = "sw";
    sw.style.background = it.color;
    const tx = document.createElement("span");
    tx.textContent = it.label;
    row.appendChild(sw); row.appendChild(tx);
    leg.appendChild(row);
  });
  root.appendChild(leg);
});

// ---------- Brillouin-zone inset in panel (a) ----------
const bzCorners = [[-1,1],[0,1],[1,1],[-1,0],[1,0],[-1,-1],[0,-1],[1,-1]];
const bzLabels = [{x: 0, y: 0, t: "Γ", dx: -11, dy: 0}, {x: 1, y: 0, t: "X", dx: 11, dy: 0}, {x: 0, y: -1, t: "Y", dx: 0, dy: 12}, {x: 1, y: -1, t: "S", dx: 11, dy: 11}];
const inset = Plot.plot({
  width: 115, height: 84, marginLeft: 7, marginRight: 18, marginTop: 9, marginBottom: 20,
  x: {domain: [-1, 1], axis: null}, y: {domain: [-1, 1], axis: null},
  style: {background: "#fff", fontFamily: SANS, fontSize: "15px", overflow: "visible"},
  marks: [
    Plot.frame({stroke: "#222", strokeWidth: 1.4}),
    Plot.dot(bzCorners, {x: d => d[0], y: d => d[1], r: 2, fill: "#111"}),
    Plot.dot([[0, 0]], {x: d => d[0], y: d => d[1], r: 2, fill: "#cc0000"}),
    ...bzLabels.map(l => Plot.text([l], {x: "x", y: "y", text: "t", dx: l.dx, dy: l.dy, fill: "#111", fontSize: 15}))
  ]
});
inset.classList.add("panel");
inset.style.left = "457px";
inset.style.top = "138px";
root.appendChild(inset);
</script></body></html>
